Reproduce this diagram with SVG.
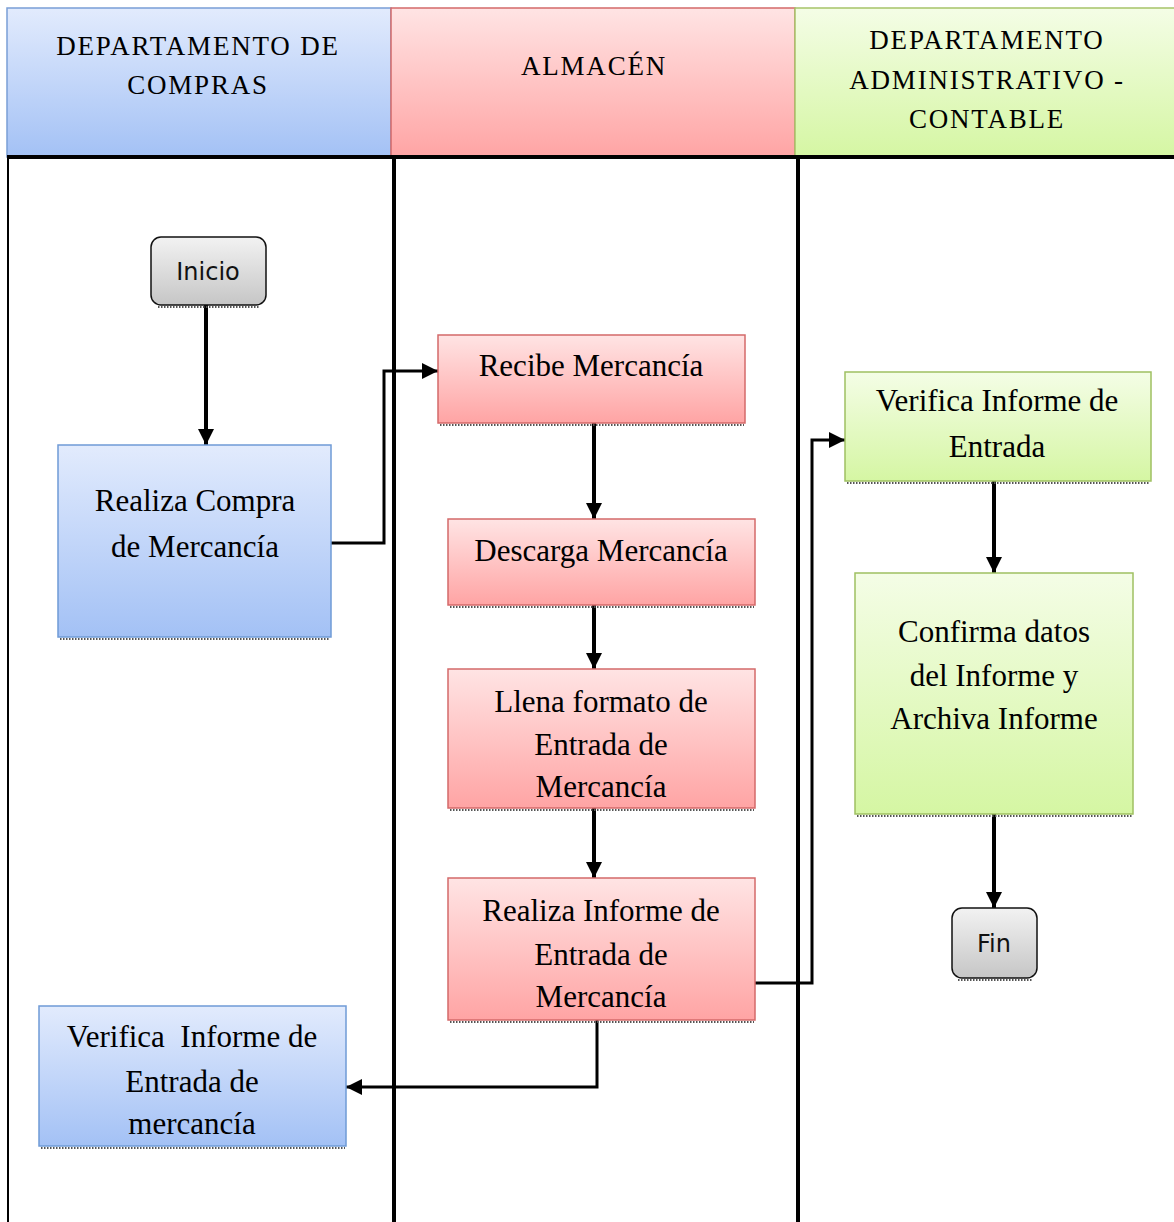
<svg xmlns="http://www.w3.org/2000/svg" width="1174" height="1222" viewBox="0 0 1174 1222">
<defs>
<linearGradient id="gBlue" x1="0" y1="0" x2="0" y2="1"><stop offset="0" stop-color="#e2ebfd"/><stop offset="1" stop-color="#a3c1f5"/></linearGradient>
<linearGradient id="gRed" x1="0" y1="0" x2="0" y2="1"><stop offset="0" stop-color="#ffe4e4"/><stop offset="1" stop-color="#ffa4a4"/></linearGradient>
<linearGradient id="gGreen" x1="0" y1="0" x2="0" y2="1"><stop offset="0" stop-color="#f4fde6"/><stop offset="1" stop-color="#d5f6a3"/></linearGradient>
<linearGradient id="gGray" x1="0" y1="0" x2="0" y2="1"><stop offset="0" stop-color="#f2f2f2"/><stop offset="1" stop-color="#c6c6c6"/></linearGradient>
<marker id="ah" markerUnits="userSpaceOnUse" markerWidth="18" markerHeight="16" refX="16" refY="8" orient="auto"><path d="M0,0 L16,8 L0,16 z" fill="#000"/></marker>
<style>
.hdr{font-size:27px;fill:#000;text-anchor:middle;letter-spacing:1.8px}
.lbl{font-size:31px;fill:#000;text-anchor:middle}
.term{font-size:24px;fill:#111;text-anchor:middle}
.blue{fill:url(#gBlue);stroke:#6f9bd6;stroke-width:1.5}
.red{fill:url(#gRed);stroke:#d46a6a;stroke-width:1.5}
.green{fill:url(#gGreen);stroke:#9fc062;stroke-width:1.5}
.gray{fill:url(#gGray);stroke:#111;stroke-width:1.5}
.shadow{stroke:#555;stroke-width:2;stroke-dasharray:1.5 1.5;fill:none}
.lane{stroke:#000;stroke-width:4;fill:none}
.conn{stroke:#000;stroke-width:4;fill:none;marker-end:url(#ah)}
.conn2{stroke:#000;stroke-width:3;fill:none;marker-end:url(#ah)}
</style>
</defs>

<g id="headers" font-family="Liberation Serif, Tinos, DejaVu Serif, serif">
<rect x="7" y="8" width="384" height="149" fill="url(#gBlue)" stroke="#7a9fd6" stroke-width="1.5"/>
<rect x="391" y="8" width="404" height="149" fill="url(#gRed)" stroke="#d46a6a" stroke-width="1.5"/>
<rect x="795" y="8" width="380" height="149" fill="url(#gGreen)" stroke="#a6c46a" stroke-width="1.5"/>
<text class="hdr" x="198" y="55">DEPARTAMENTO DE</text>
<text class="hdr" x="198" y="94">COMPRAS</text>
<text class="hdr" x="594" y="75">ALMACÉN</text>
<text class="hdr" x="987" y="49">DEPARTAMENTO</text>
<text class="hdr" x="987" y="89">ADMINISTRATIVO -</text>
<text class="hdr" x="987" y="128">CONTABLE</text>
</g>

<g id="lanes">
<line class="lane" x1="7" y1="157" x2="1174" y2="157"/>
<line x1="8" y1="157" x2="8" y2="1222" stroke="#000" stroke-width="2"/>
<line class="lane" x1="394" y1="157" x2="394" y2="1222"/>
<line class="lane" x1="798" y1="157" x2="798" y2="1222"/>
</g>

<g id="connectors">
<line class="conn" x1="206" y1="305" x2="206" y2="445"/>
<polyline class="conn2" points="331,543 384,543 384,371 438,371"/>
<line class="conn" x1="594" y1="423" x2="594" y2="519"/>
<line class="conn" x1="594" y1="605" x2="594" y2="669"/>
<line class="conn" x1="594" y1="808" x2="594" y2="878"/>
<polyline class="conn2" points="755,983 812,983 812,440 845,440"/>
<polyline class="conn2" points="597,1020 597,1087 346,1087"/>
<line class="conn" x1="994" y1="481" x2="994" y2="573"/>
<line class="conn" x1="994" y1="814" x2="994" y2="908"/>
</g>

<g id="inicio" font-family="DejaVu Sans, Verdana, sans-serif">
<line class="shadow" x1="158" y1="307" x2="260" y2="307"/>
<rect class="gray" x="151" y="237" width="115" height="68" rx="10"/>
<text class="term" x="208" y="280">Inicio</text>
</g>

<g id="realiza-compra" font-family="Liberation Serif, Tinos, DejaVu Serif, serif">
<line class="shadow" x1="60" y1="639" x2="330" y2="639"/>
<rect class="blue" x="58" y="445" width="273" height="192"/>
<text class="lbl" x="195" y="511">Realiza Compra</text>
<text class="lbl" x="195" y="557">de Mercancía</text>
</g>

<g id="recibe" font-family="Liberation Serif, Tinos, DejaVu Serif, serif">
<line class="shadow" x1="440" y1="425" x2="744" y2="425"/>
<rect class="red" x="438" y="335" width="307" height="88"/>
<text class="lbl" x="591" y="376">Recibe Mercancía</text>
</g>

<g id="descarga" font-family="Liberation Serif, Tinos, DejaVu Serif, serif">
<line class="shadow" x1="450" y1="607" x2="754" y2="607"/>
<rect class="red" x="448" y="519" width="307" height="86"/>
<text class="lbl" x="601" y="561">Descarga Mercancía</text>
</g>

<g id="llena" font-family="Liberation Serif, Tinos, DejaVu Serif, serif">
<line class="shadow" x1="450" y1="810" x2="754" y2="810"/>
<rect class="red" x="448" y="669" width="307" height="139"/>
<text class="lbl" x="601" y="712">Llena formato de</text>
<text class="lbl" x="601" y="755">Entrada de</text>
<text class="lbl" x="601" y="797">Mercancía</text>
</g>

<g id="realiza-informe" font-family="Liberation Serif, Tinos, DejaVu Serif, serif">
<line class="shadow" x1="450" y1="1022" x2="754" y2="1022"/>
<rect class="red" x="448" y="878" width="307" height="142"/>
<text class="lbl" x="601" y="921">Realiza Informe de</text>
<text class="lbl" x="601" y="965">Entrada de</text>
<text class="lbl" x="601" y="1007">Mercancía</text>
</g>

<g id="verifica-compras" font-family="Liberation Serif, Tinos, DejaVu Serif, serif">
<line class="shadow" x1="41" y1="1148" x2="345" y2="1148"/>
<rect class="blue" x="39" y="1006" width="307" height="140"/>
<text class="lbl" x="192" y="1047" xml:space="preserve">Verifica  Informe de</text>
<text class="lbl" x="192" y="1092">Entrada de</text>
<text class="lbl" x="192" y="1134">mercancía</text>
</g>

<g id="verifica-contable" font-family="Liberation Serif, Tinos, DejaVu Serif, serif">
<line class="shadow" x1="847" y1="483" x2="1150" y2="483"/>
<rect class="green" x="845" y="372" width="306" height="109"/>
<text class="lbl" x="997" y="411">Verifica Informe de</text>
<text class="lbl" x="997" y="457">Entrada</text>
</g>

<g id="confirma" font-family="Liberation Serif, Tinos, DejaVu Serif, serif">
<line class="shadow" x1="857" y1="816" x2="1132" y2="816"/>
<rect class="green" x="855" y="573" width="278" height="241"/>
<text class="lbl" x="994" y="642">Confirma datos</text>
<text class="lbl" x="994" y="686">del Informe y</text>
<text class="lbl" x="994" y="729">Archiva Informe</text>
</g>

<g id="fin" font-family="DejaVu Sans, Verdana, sans-serif">
<line class="shadow" x1="958" y1="980" x2="1032" y2="980"/>
<rect class="gray" x="952" y="908" width="85" height="70" rx="10"/>
<text class="term" x="994" y="952">Fin</text>
</g>
</svg>
